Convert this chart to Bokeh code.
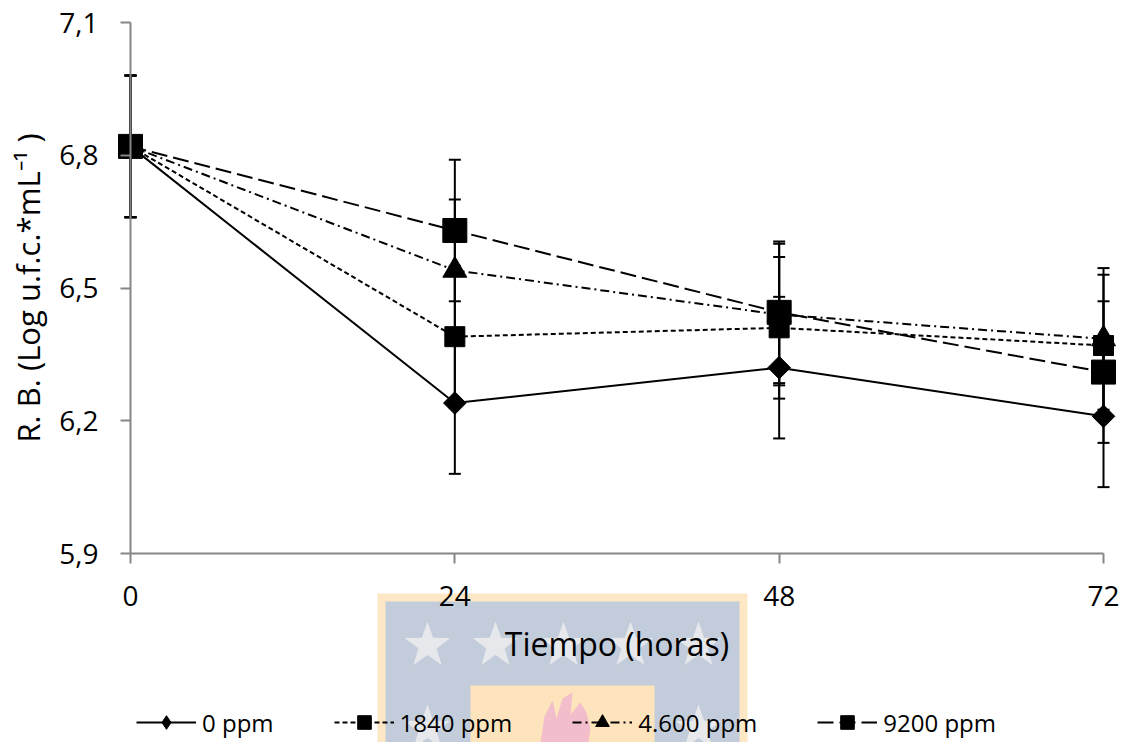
import numpy as np
from bokeh.plotting import figure
from bokeh.models import (Range1d, FixedTicker, CustomJSTickFormatter, ColumnDataSource, Whisker,
                          TeeHead, Legend, LegendItem, BoxAnnotation, PolyAnnotation)
from bokeh.embed import file_html
from bokeh.resources import INLINE

# ---------------- data ----------------
tiempo = [0, 24, 48, 72]
series_names = ["0 ppm", "1840 ppm", "4.600 ppm", "9200 ppm"]
rb_0 = [6.82, 6.24, 6.32, 6.21]
rb_1840 = [6.82, 6.39, 6.41, 6.37]
rb_4600 = [6.82, 6.54, 6.44, 6.385]
rb_9200 = [6.82, 6.63, 6.445, 6.31]
err_0 = [0.16, 0.16, 0.16, 0.16]
err_1840 = [0.16, 0.16, 0.16, 0.16]
err_4600 = [0.16, 0.16, 0.16, 0.16]
err_9200 = [0.16, 0.16, 0.16, 0.16]
x_ticks = [0, 24, 48, 72]
y_ticks = [5.9, 6.2, 6.5, 6.8, 7.1]

FONT = "Open Sans"
AXIS_GRAY = "#868686"

W, H = 1124, 742
# plot area: x 0..72 -> px 130..1103, y 7.1..5.9 -> px 22..553 (frame = whole canvas)
KX = (1103 - 130) / 72.0
KY = (553 - 22) / 1.2
x_rng = Range1d(0 - 130 / KX, 72 + (W - 1103) / KX)
y_rng = Range1d(5.9 - (H - 553) / KY, 7.1 + 22 / KY)

p = figure(width=W, height=H, x_range=x_rng, y_range=y_rng,
           output_backend="svg", toolbar_location=None,
           min_border_left=0, min_border_right=0, min_border_top=0, min_border_bottom=0)
p.xgrid.visible = False
p.ygrid.visible = False
p.outline_line_color = None
p.background_fill_color = "white"
p.border_fill_color = "white"

# ---------------- watermark (decorative, behind text) ----------------
def box(l, r, t, b, color):
    return BoxAnnotation(left=l, right=r, top=t, bottom=b,
                         left_units="canvas", right_units="canvas",
                         top_units="canvas", bottom_units="canvas",
                         fill_color=color, fill_alpha=1, line_color=None, level="underlay")

def star(cx, cy, R):
    xs, ys = [], []
    for i in range(10):
        r = R if i % 2 == 0 else R * 0.4
        a = -np.pi / 2 + i * np.pi / 5
        xs.append(float(cx + r * np.cos(a)))
        ys.append(float(cy + r * np.sin(a)))
    return xs, ys

wm = [box(377, 747, 593, H, "#FDE7C4"), box(385, 739, 601, H, "#C2CCDA")]
for (sx, sy) in [(427, 645), (495, 645), (563, 645), (630, 645), (698, 645), (427, 728), (698, 728)]:
    xs, ys = star(sx, sy, 24)
    wm.append(PolyAnnotation(xs=xs, ys=ys, xs_units="canvas", ys_units="canvas",
                             fill_color="#E6E8EC", fill_alpha=1, line_color=None, level="underlay"))
wm.append(box(470, 654, 685, H, "#FEE4BD"))
fx = [540, 544, 552, 556, 562, 572, 570, 580, 586, 590, 588]
fy = [H, 716, 700, 718, 698, 692, 714, 702, 712, 728, H]
wm.append(PolyAnnotation(xs=fx, ys=fy, xs_units="canvas", ys_units="canvas",
                         fill_color="#F3BECB", fill_alpha=1, line_color=None, level="underlay"))
for a in wm:
    p.add_layout(a)

# ---------------- axes ----------------
xax = p.xaxis[0]
yax = p.yaxis[0]
for ax in (xax, yax):
    ax.axis_line_color = AXIS_GRAY
    ax.axis_line_width = 2
    ax.major_tick_line_color = AXIS_GRAY
    ax.major_tick_line_width = 2
    ax.minor_tick_line_color = None
    ax.major_tick_out = 10
    ax.major_tick_in = 0
    ax.major_label_text_font = FONT
    ax.major_label_text_font_size = "28px"
    ax.major_label_text_color = "black"
    ax.axis_label_text_font = FONT
    ax.axis_label_text_font_style = "normal"
    ax.axis_label_text_color = "black"

yax.fixed_location = 0
yax.bounds = (5.9, 7.1)
yax.ticker = FixedTicker(ticks=y_ticks)
yax.formatter = CustomJSTickFormatter(code="return tick.toFixed(1).replace('.', ',');")
yax.major_label_standoff = 22
yax.axis_label = "R. B. (Log u.f.c.*mL\u207b\u00b9 )"
yax.axis_label_text_font_size = "31px"
yax.axis_label_standoff = 7

xax.fixed_location = 5.9
xax.bounds = (0, 72)
xax.ticker = FixedTicker(ticks=x_ticks)
xax.major_label_standoff = 22
xax.axis_label = "Tiempo (horas)"
xax.axis_label_text_font_size = "32px"
xax.axis_label_standoff = 13

# ---------------- series ----------------
vals = [rb_0, rb_1840, rb_4600, rb_9200]
errs = [err_0, err_1840, err_4600, err_9200]
dashes = ["solid", "5 3", "9 4 2 4", "16 6"]
markers = [("square", 16, np.pi / 4), ("square", 20, 0.0), ("triangle", 24, 0.0), ("square", 24, 0.0)]
legend_markers = ["diamond", "square", "triangle", "square"]

items = []
for name, v, e, dash, (mk, sz, ang), lmk in zip(series_names, vals, errs, dashes, markers, legend_markers):
    src = ColumnDataSource(dict(t=tiempo, v=v,
                                up=[a + b for a, b in zip(v, e)],
                                lo=[a - b for a, b in zip(v, e)]))
    w = Whisker(source=src, base="t", upper="up", lower="lo", line_color="black", line_width=2,
                upper_head=TeeHead(size=12, line_color="black", line_width=2),
                lower_head=TeeHead(size=12, line_color="black", line_width=2))
    p.add_layout(w)
    ln = p.line("t", "v", source=src, line_color="black", line_width=2, line_dash=dash)
    rends = [ln]
    if lmk != mk:
        # legend-only glyph shape, fully covered by the plotted marker
        rends.append(p.scatter("t", "v", source=src, marker=lmk, size=12,
                               fill_color="black", line_color="black"))
    sc = p.scatter("t", "v", source=src, marker=mk, size=sz, angle=ang,
                   fill_color="black", line_color="black")
    if lmk == mk:
        rends.append(sc)
    items.append(LegendItem(label=name, renderers=rends))

legend = Legend(items=items, orientation="horizontal", location=(136, 3),
                margin=0, padding=2, spacing=60, glyph_width=60, glyph_height=34,
                label_standoff=6, label_text_font=FONT, label_text_font_size="24px",
                label_text_color="black", background_fill_alpha=0, border_line_color=None)
p.add_layout(legend)

open("out.html", "w").write(file_html(p, INLINE))
